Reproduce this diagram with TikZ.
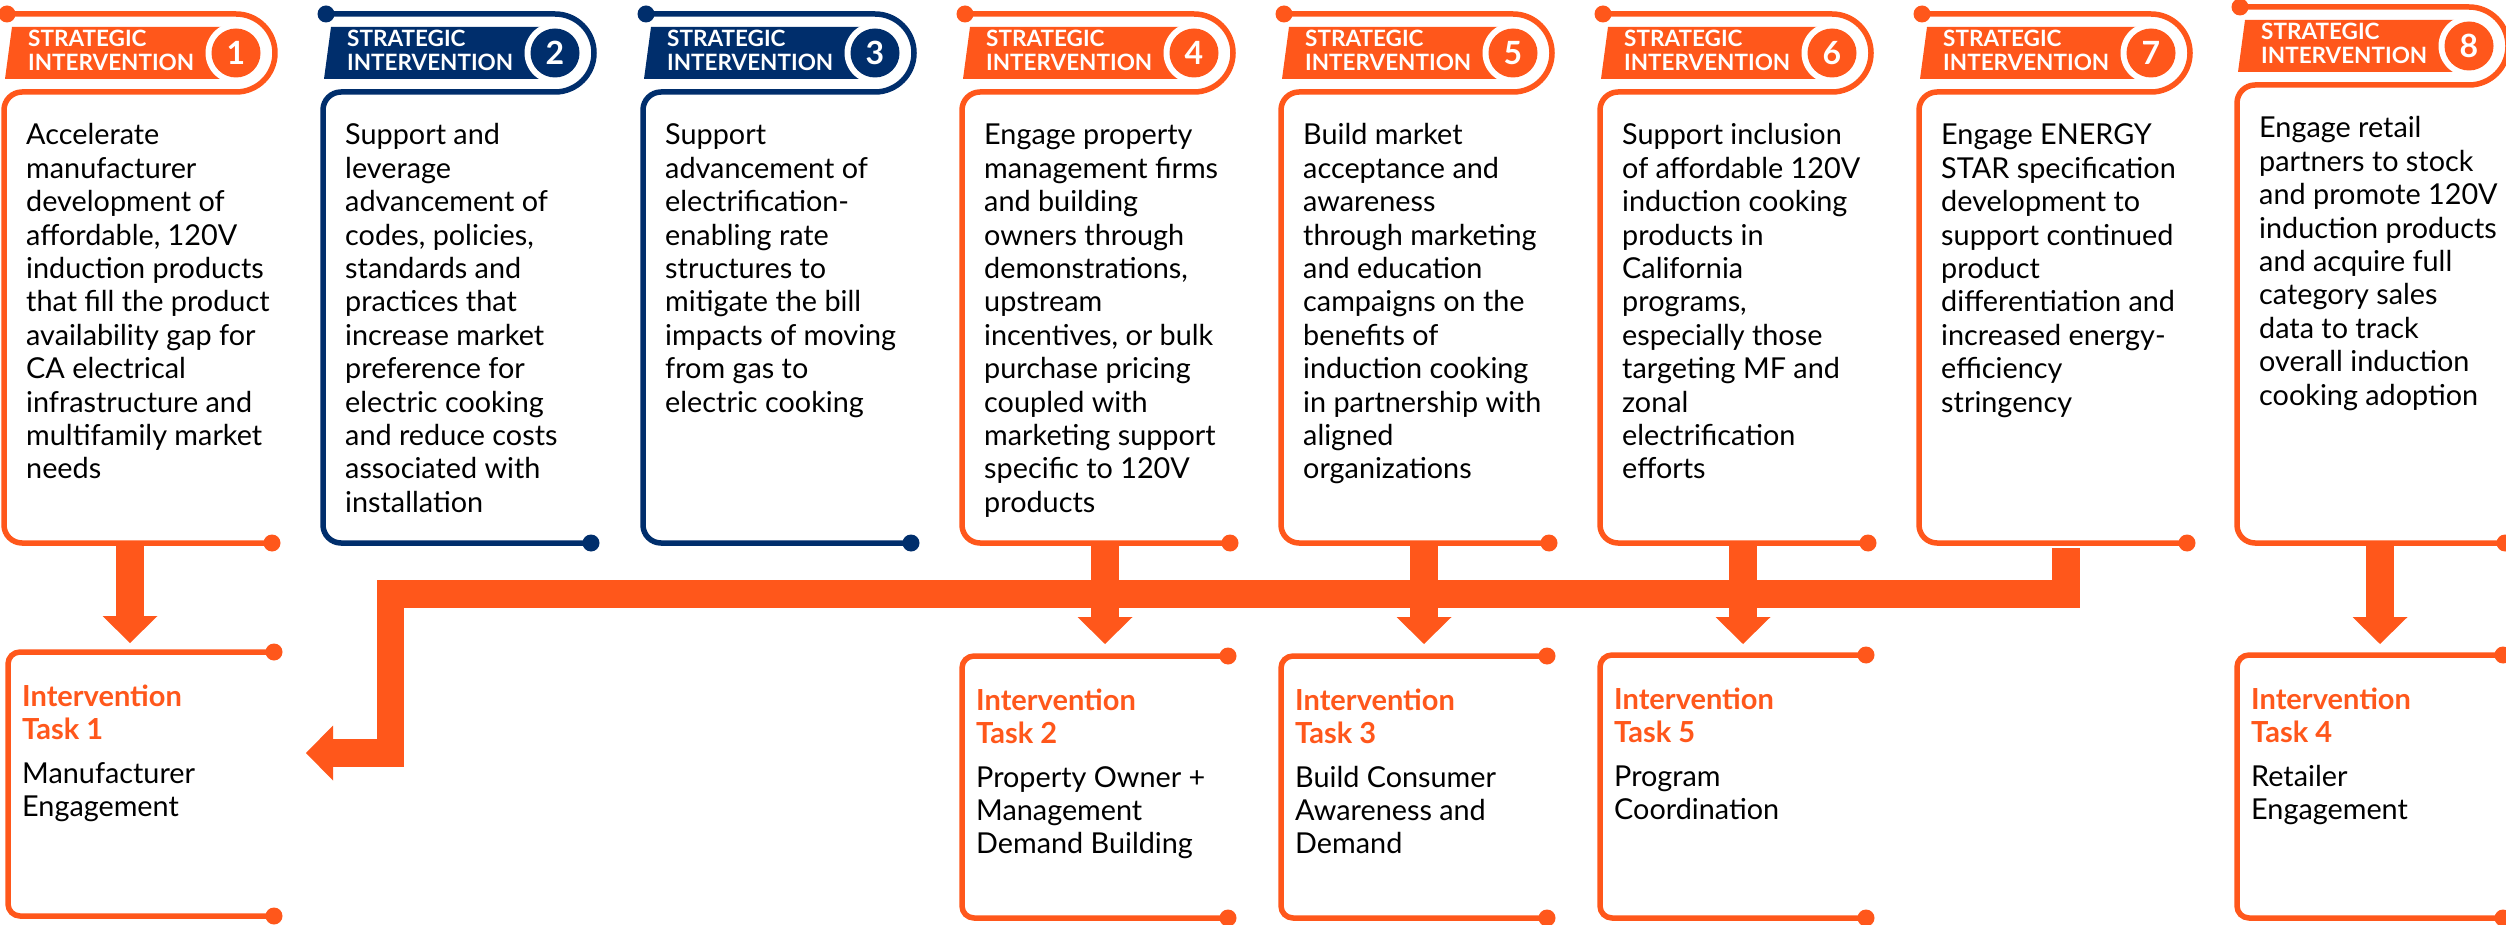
\documentclass[tikz,border=0pt]{standalone}
\usepackage{fontspec}
\setmainfont{Lato}
\definecolor{sorange}{RGB}{255,87,27}
\definecolor{snavy}{RGB}{0,46,108}

\newcommand\bodyfont{\fontsize{28.8}{33.4}\selectfont}
\newcommand\bannerfont{\fontsize{22.5}{24.3}\selectfont\bfseries}
\newcommand\numfont{\fontsize{32}{32}\selectfont\bfseries}
\newcommand\taskheadfont{\fontsize{29}{33}\selectfont\bfseries}

\tikzset{
  cardline/.style={line width=5.5pt, line cap=butt, line join=round},
  flowline/.style={draw=sorange, line width=27.5pt, line join=miter, line cap=butt},
  textblock/.style={anchor=base west, inner sep=0pt},
}

% one strategic intervention card:
% #1 number, #2/#3 centre of the number disc, #4 colour, #5 body lines
\newcommand\drawcard[5]{%
  \fill[#4] (#2-231,#3+26) -- (#2-224,#3-26) -- (#2,#3-26) -- (#2,#3+26) -- cycle;
  \fill[white] (#2,#3) circle[radius=30.5];
  \node[circle, fill=#4, minimum size=49pt, inner sep=0pt, text=white, font=\numfont] (num#1) at (#2,#3) {#1};
  \node[textblock, text=white, font=\bannerfont] (ban#1) at (#2-208,#3-6.3) {\parbox[t]{200pt}{STRATEGIC\\INTERVENTION}};
  \draw[cardline, #4] (#2-229,#3-39) -- (#2,#3-39) arc[start angle=-90, end angle=90, radius=39]
     [rounded corners=18pt] -- (#2-232,#3+39) -- (#2-232,543) -- (#2+36,543);
  \fill[#4] (#2-229,#3-39) circle[radius=8.5] (#2+36,543) circle[radius=8.5];
  \node[textblock] (card#1) at (#2-210,#3+92) {\parbox[t]{260pt}{\bodyfont #5}};
}

% one intervention task box:
% #1 task number, #2 left x, #3 top y, #4 bottom y, #5 description lines
\newcommand\drawtask[5]{%
  \draw[cardline, sorange, rounded corners=12pt] (#2+266,#3) -- (#2,#3) -- (#2,#4) -- (#2+266,#4);
  \fill[sorange] (#2+266,#3) circle[radius=8.5] (#2+266,#4) circle[radius=8.5];
  \node[textblock, text=sorange, font=\taskheadfont] (taskhead#1) at (#2+14,#3+54) {\parbox[t]{250pt}{Intervention\\Task #1}};
  \node[textblock] (task#1) at (#2+14,#3+131) {\parbox[t]{250pt}{\bodyfont #5}};
}

% arrow heads with their tip at the named point
\newcommand\headdown[1]{\fill[sorange] (#1) -- ([shift={(-27.5pt,27pt)}]#1) -- ([shift={(27.5pt,27pt)}]#1) -- cycle;}
\newcommand\headleft[1]{\fill[sorange] (#1) -- ([shift={(27pt,27.5pt)}]#1) -- ([shift={(27pt,-27.5pt)}]#1) -- cycle;}

\begin{document}
\begin{tikzpicture}[x=1pt, y=-1pt]
\useasboundingbox (0,0) rectangle (2506,925);
\clip (0,0) rectangle (2506,925);
\fill[white] (0,0) rectangle (2506,925);

% connector end points
\coordinate (out1) at (130,545);  \coordinate (in1) at (130,643);
\coordinate (out4) at (1105,545); \coordinate (in2) at (1105,644);
\coordinate (out5) at (1424,545); \coordinate (in3) at (1424,644);
\coordinate (out6) at (1743,545); \coordinate (in5) at (1743,644);
\coordinate (out8) at (2380,545); \coordinate (in4) at (2380,644);
\coordinate (out7) at (2066,548);
\coordinate (barR) at (2066,594);
\coordinate (barL) at (390.5,594);
\coordinate (barD) at (390.5,753);
\coordinate (in1side) at (306,753);

% collecting bar from card 7 to task 1
\draw[flowline] (out7) -- (barR) -- (barL) -- (barD) -- ([xshift=26pt]in1side);
\headleft{in1side}

% straight arrows
\draw[flowline] (out1) -- ([yshift=26pt]in1); \headdown{in1}
\draw[flowline] (out4) -- ([yshift=26pt]in2); \headdown{in2}
\draw[flowline] (out5) -- ([yshift=26pt]in3); \headdown{in3}
\draw[flowline] (out6) -- ([yshift=26pt]in5); \headdown{in5}
\draw[flowline] (out8) -- ([yshift=26pt]in4); \headdown{in4}

% strategic intervention cards
\drawcard{1}{236}{53}{sorange}{Accelerate\\manufacturer\\development of\\affordable, 120V\\induction products\\that fill the product\\availability gap for\\CA electrical\\infrastructure and\\multifamily market\\needs}
\drawcard{2}{555}{53}{snavy}{Support and\\leverage\\advancement of\\codes, policies,\\standards and\\practices that\\increase market\\preference for\\electric cooking\\and reduce costs\\associated with\\installation}
\drawcard{3}{875}{53}{snavy}{Support\\advancement of\\electrification-\\enabling rate\\structures to\\mitigate the bill\\impacts of moving\\from gas to\\electric cooking}
\drawcard{4}{1194}{53}{sorange}{Engage property\\management firms\\and building\\owners through\\demonstrations,\\upstream\\incentives, or bulk\\purchase pricing\\coupled with\\marketing support\\specific to 120V\\products}
\drawcard{5}{1513}{53}{sorange}{Build market\\acceptance and\\awareness\\through marketing\\and education\\campaigns on the\\benefits of\\induction cooking\\in partnership with\\aligned\\organizations}
\drawcard{6}{1832}{53}{sorange}{Support inclusion\\of affordable 120V\\induction cooking\\products in\\California\\programs,\\especially those\\targeting MF and\\zonal\\electrification\\efforts}
\drawcard{7}{2151}{53}{sorange}{Engage ENERGY\\STAR specification\\development to\\support continued\\product\\differentiation and\\increased energy-\\efficiency\\stringency}
\drawcard{8}{2469}{46}{sorange}{Engage retail\\partners to stock\\and promote 120V\\induction products\\and acquire full\\category sales\\data to track\\overall induction\\cooking adoption}

% intervention tasks
\drawtask{1}{8}{652}{916}{Manufacturer\\Engagement}
\drawtask{2}{962}{656}{918}{Property Owner +\\Management\\Demand Building}
\drawtask{3}{1281}{656}{918}{Build Consumer\\Awareness and\\Demand}
\drawtask{5}{1600}{655}{918}{Program\\Coordination}
\drawtask{4}{2237}{655}{918}{Retailer\\Engagement}
\end{tikzpicture}
\end{document}
